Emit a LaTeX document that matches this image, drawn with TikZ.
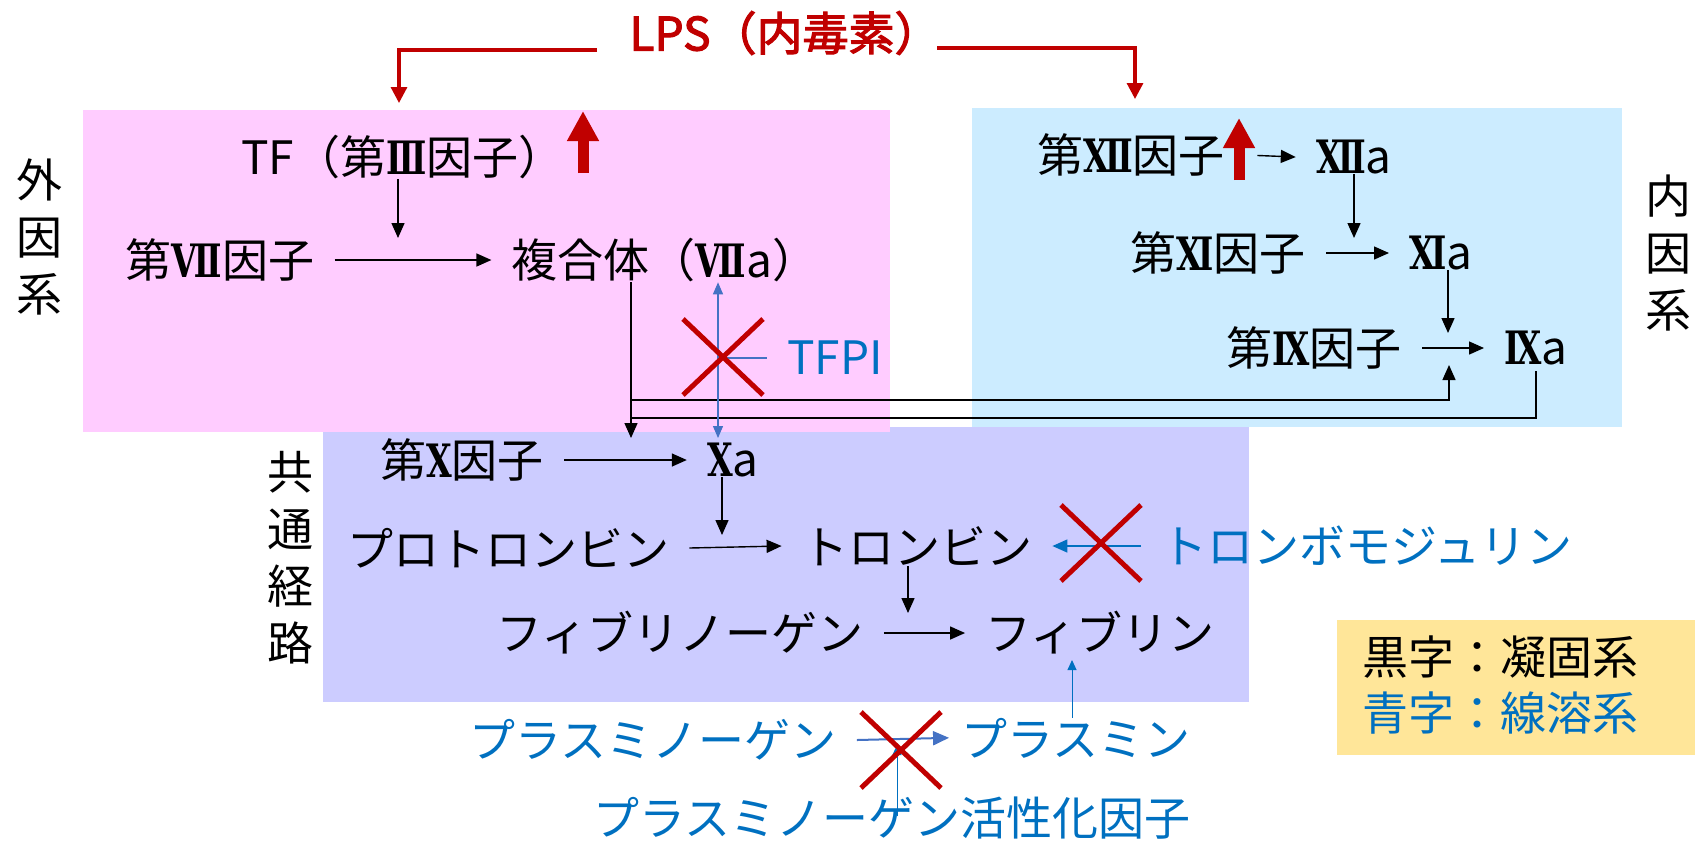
\documentclass[tikz,border=0pt]{standalone}
\usepackage{fontspec}
\setmainfont{Noto Sans CJK JP}[AutoFakeBold=2.5]
\newfontfamily\rnfont{DejaVu Serif}[FakeStretch=0.72]
\usepackage{tikz}
\usetikzlibrary{arrows.meta,positioning}
\definecolor{pinkbg}{RGB}{255,204,255}
\definecolor{bluebg}{RGB}{204,236,255}
\definecolor{lavbg}{RGB}{204,204,255}
\definecolor{keybg}{RGB}{255,230,153}
\definecolor{lpsred}{RGB}{192,0,0}
\definecolor{fibblue}{RGB}{0,112,192}
\definecolor{tfpiblue}{RGB}{68,114,196}
\newcommand{\rn}[1]{{\rnfont\bfseries #1}}
\tikzset{
 lbl/.style={inner xsep=10pt,inner ysep=0pt,font=\fontsize{23}{28.5}\selectfont},
 lblblue/.style={lbl,text=fibblue},
 vlbl/.style={lbl,align=center},
 arr/.style={-{Triangle[length=7.5pt,width=6.5pt]},line width=0.7pt},
 bluearr/.style={-{Triangle[length=7.5pt,width=6.5pt]},line width=0.7pt,draw=fibblue},
 thinblue/.style={-{Triangle[length=5pt,width=4.5pt]},line width=0.5pt,draw=fibblue},
 dblarr/.style={{Triangle[length=6pt,width=5pt]}-{Triangle[length=6pt,width=5pt]},line width=0.6pt,draw=tfpiblue},
 redarr/.style={-{Triangle[length=8pt,width=8pt]},line width=1.6pt,draw=lpsred},
 uparr/.style={-{Triangle[length=15pt,width=15pt]},line width=5.5pt,draw=lpsred},
 cross/.style={draw=lpsred,line width=2.5pt},
}
\begin{document}
\begin{tikzpicture}[x=0.5pt,y=-0.5pt]
 \useasboundingbox (0,0) rectangle (1695,842);
 \fill[lavbg] (323,427) rectangle (1249,702);
 \fill[pinkbg] (83,110) rectangle (890,432);
 \fill[bluebg] (972,108) rectangle (1622,427);
 \fill[keybg] (1337,620) rectangle (1695,755);

 \node[lbl,text=lpsred,font=\fontsize{23}{28.5}\selectfont\bfseries] (lps) at (785,33) {LPS（内毒素）};
 \node[vlbl] (gai) at (40,237) {外\\因\\系};
 \node[vlbl] (nai) at (1668,253) {内\\因\\系};
 \node[vlbl] (kyo) at (290,558) {共\\通\\経\\路};

 \node[lbl] (tf) at (403,157) {TF（第\rn{Ⅲ}因子）};
 \node[lbl] (f7) at (220,260) {第\rn{Ⅶ}因子};
 \node[lbl] (f7a) at (665,260) {複合体（\rn{Ⅶ}a）};
 \node[lblblue] (tfpi) at (835,358) {TFPI};

 \node[lbl] (f12) at (1131,155) {第\rn{Ⅻ}因子};
 \node[lbl] (f12a) at (1354,157) {\rn{Ⅻ}a};
 \node[lbl] (f11) at (1218,253) {第\rn{Ⅺ}因子};
 \node[lbl] (f11a) at (1441,253) {\rn{Ⅺ}a};
 \node[lbl] (f9) at (1314,348) {第\rn{Ⅸ}因子};
 \node[lbl] (f9a) at (1536,348) {\rn{Ⅸ}a};

 \node[lbl] (f10) at (462,460) {第\rn{Ⅹ}因子};
 \node[lbl] (f10a) at (733,460) {\rn{Ⅹ}a};
 \node[lbl] (proth) at (508,548) {プロトロンビン};
 \node[lbl] (thr) at (917,546) {トロンビン};
 \node[lblblue] (tm) at (1367,546) {トロンボモジュリン};
 \node[lbl] (fbg) at (680,633) {フィブリノーゲン};
 \node[lbl] (fbn) at (1100,633) {フィブリン};

 \node[lblblue] (plg) at (653,740) {プラスミノーゲン};
 \node[lblblue] (pls) at (1076,738) {プラスミン};
 \node[lblblue] (pa) at (892,818) {プラスミノーゲン活性化因子};

 \node[lbl] (key1) at (1500,657) {黒字：凝固系};
 \node[lblblue] (key2) at (1500,713) {青字：線溶系};

 \coordinate (lpsl) at (597,50);
 \coordinate (lpsr) at (937,48);
 \coordinate (exttop) at (399,103);
 \coordinate (inttop) at (1135,99);
 \draw[redarr] (lpsl) -| (exttop);
 \draw[redarr] (lpsr) -| (inttop);
 \coordinate (tfup) at (583,173);
 \coordinate (f12up) at (1239,180);
 \draw[uparr] (tfup) -- ++(0,-62);
 \draw[uparr] (f12up) -- ++(0,-62);

 \coordinate (j7) at (398,238);
 \coordinate (j11) at (1354,238);
 \coordinate (j9) at (1448,333);
 \coordinate (jpt) at (722,535);
 \coordinate (jfb) at (908,613);
 \coordinate (jx) at (631,438);
 \coordinate (k1) at (631,400);
 \coordinate (k2) at (631,418);
 \coordinate (jix) at (1449,365);
 \draw[arr] (f7.east) -- (f7a.west);
 \draw[arr] (j7 |- tf.south) -- (j7);
 \draw[arr,shorten <=6pt] (f12.east) -- (f12a.west);
 \draw[arr] (f11.east) -- (f11a.west);
 \draw[arr] (f9.east) -- (f9a.west);
 \draw[arr] (j11 |- f12a.south) -- (j11);
 \draw[arr] (j9 |- f11a.south) -- (j9);
 \draw[arr] (jx |- f7a.south) -- (jx);
 \draw[arr] (k1) -| (jix);
 \draw[line width=0.7pt,shorten <=3pt] (f9a.south) |- (k2);
 \draw[arr] (f10.east) -- (f10a.west);
 \draw[arr] (jpt |- f10a.south) -- (jpt);
 \draw[arr] (proth.east) -- (thr.west);
 \draw[arr] (jfb |- thr.south) -- (jfb);
 \draw[arr] (fbg.east) -- (fbn.west);

 \coordinate (tq) at (718,438);
 \draw[dblarr] (tq |- f7a.south) -- (tq);
 \draw[tfpiblue,line width=0.6pt] (tfpi.west) -- (tq |- tfpi.west);
 \coordinate (x1) at (723,357);
 \draw[cross] (x1) ++(-40,-38) -- ++(80,76) ++(0,-76) -- ++(-80,76);

 \draw[bluearr] (tm.west) -- (thr.east);
 \coordinate (x2) at (1101,543);
 \draw[cross] (x2) ++(-40,-38) -- ++(80,76) ++(0,-76) -- ++(-80,76);

 \coordinate (jfn) at (1072,660);
 \draw[thinblue] (jfn |- pls.north) -- (jfn);
 \draw[-{Triangle[length=8pt,width=7pt]},line width=1pt,draw=tfpiblue,shorten >=-4pt] (plg.east) -- (pls.west);
 \coordinate (ja) at (897,745);
 \draw[thinblue,shorten <=-10pt] (ja |- pa.north) -- (ja);
 \coordinate (x3) at (901,750);
 \draw[cross] (x3) ++(-40,-38) -- ++(80,76) ++(0,-76) -- ++(-80,76);
\end{tikzpicture}
\end{document}
